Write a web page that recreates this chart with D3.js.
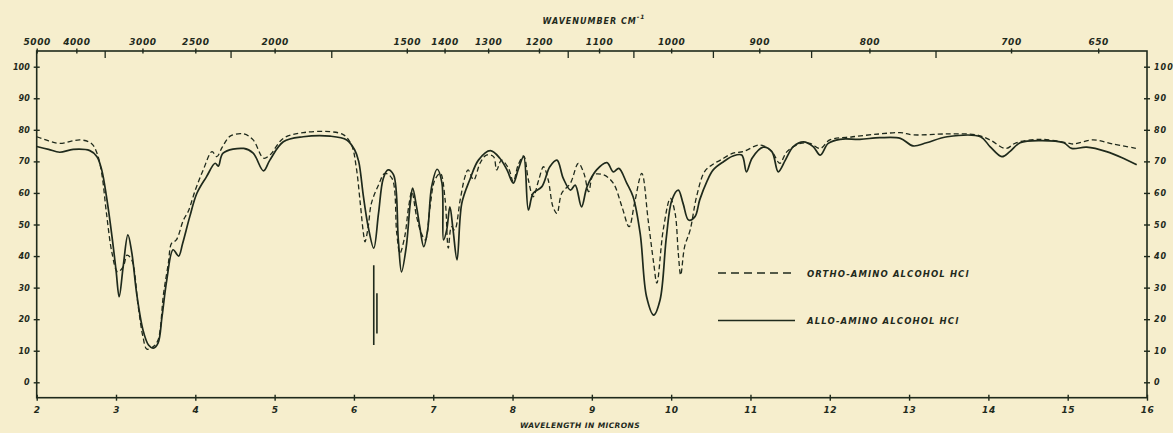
<!DOCTYPE html>
<html>
<head>
<meta charset="utf-8">
<script src="https://cdn.jsdelivr.net/npm/d3@7"></script>
<style>
  html, body { margin: 0; padding: 0; background: #f6eecd; }
  svg { display: block; }
  text { font-family: "DejaVu Sans", sans-serif; font-style: italic; font-weight: bold; fill: #1f2a1c; }
</style>
</head>
<body>
<svg id="chart"></svg>
<script>
// Data: wavelength (microns) and % transmittance
const alloWave = [2.00,2.15,2.29,2.46,2.67,2.76,2.82,2.88,2.95,3.00,3.04,3.09,3.15,3.20,3.26,3.34,3.41,3.47,3.53,3.58,3.64,3.72,3.79,3.84,3.93,4.02,4.14,4.25,4.29,4.35,4.61,4.73,4.86,4.94,5.11,5.36,5.70,5.91,6.01,6.06,6.12,6.18,6.25,6.31,6.37,6.43,6.50,6.56,6.60,6.66,6.71,6.74,6.79,6.83,6.88,6.93,6.98,7.05,7.11,7.13,7.17,7.21,7.25,7.30,7.36,7.46,7.57,7.72,7.84,7.93,8.01,8.07,8.14,8.20,8.26,8.37,8.47,8.56,8.64,8.73,8.79,8.87,8.94,9.06,9.19,9.27,9.34,9.44,9.52,9.61,9.69,9.78,9.86,9.94,10.01,10.09,10.15,10.22,10.30,10.36,10.45,10.53,10.66,10.78,10.89,10.95,11.02,11.16,11.27,11.35,11.44,11.54,11.67,11.79,11.88,11.98,12.13,12.38,12.63,12.89,13.05,13.22,13.48,13.90,14.02,14.17,14.27,14.40,14.65,14.95,15.05,15.24,15.49,15.70,15.87];
const alloT = [74.7,73.8,72.9,73.8,73.4,71.5,67.3,58.8,46.1,35.6,27.1,36.6,46.7,40.9,28.2,16.6,11.8,10.8,12.4,20.8,32.4,42.0,40.0,44.0,52.5,59.9,65.1,69.4,68.5,72.6,74.1,72.6,67.0,70.4,76.2,77.8,78.0,76.8,73.6,70.0,58.8,49.3,42.5,53.5,64.6,67.3,65.7,45.1,35.0,43.0,56.7,61.5,55.6,49.3,43.0,48.3,62.0,67.5,63.1,45.1,48.3,55.6,48.3,38.8,56.7,64.1,70.4,73.4,71.0,67.3,63.1,67.3,71.5,54.6,59.9,62.0,68.3,70.4,64.6,60.9,62.5,55.6,62.0,67.3,69.6,66.7,67.8,63.1,58.8,47.0,27.1,21.3,26.1,46.1,57.8,60.9,56.7,51.4,52.5,57.8,63.6,67.3,69.9,71.7,72.0,66.7,71.0,74.5,73.1,66.7,70.4,74.7,76.2,74.7,72.0,75.7,77.0,77.0,77.5,77.3,74.9,75.9,77.8,77.8,74.7,71.5,73.1,75.9,76.6,75.9,74.1,74.5,73.1,71.0,68.9];

const orthoWave = [2.00,2.15,2.29,2.55,2.69,2.76,2.82,2.88,2.95,3.02,3.09,3.14,3.20,3.28,3.34,3.39,3.47,3.53,3.60,3.66,3.70,3.76,3.85,3.91,4.00,4.10,4.21,4.27,4.34,4.44,4.61,4.73,4.86,4.94,5.11,5.36,5.70,5.87,5.97,6.03,6.08,6.12,6.14,6.18,6.22,6.31,6.39,6.48,6.54,6.58,6.64,6.69,6.73,6.79,6.85,6.90,6.96,7.02,7.09,7.15,7.19,7.23,7.27,7.34,7.40,7.44,7.51,7.59,7.67,7.76,7.80,7.86,7.95,8.01,8.07,8.14,8.20,8.26,8.33,8.39,8.45,8.51,8.56,8.62,8.73,8.83,8.90,8.96,9.02,9.15,9.27,9.38,9.47,9.54,9.63,9.71,9.78,9.82,9.90,9.99,10.05,10.09,10.12,10.17,10.24,10.32,10.42,10.51,10.62,10.78,10.91,11.12,11.27,11.37,11.46,11.63,11.75,11.88,12.00,12.29,12.63,12.89,13.05,13.48,13.85,14.02,14.22,14.35,14.65,14.99,15.07,15.32,15.57,15.87];
const orthoT = [77.8,76.5,75.7,76.8,75.7,72.6,66.2,53.5,40.9,35.0,36.6,40.3,38.7,24.0,14.4,10.5,11.3,13.4,28.2,37.7,44.0,45.1,51.4,54.1,60.9,67.3,73.1,71.5,74.5,78.0,78.7,76.8,71.0,72.0,77.3,79.1,79.4,78.4,75.2,68.0,56.7,47.2,44.5,49.3,56.7,62.5,66.2,64.6,47.2,40.9,46.1,55.6,60.4,52.5,47.2,45.1,55.6,64.1,66.2,57.8,42.5,49.3,48.3,57.8,65.1,67.3,64.1,69.4,72.0,71.5,67.3,70.4,67.8,63.6,68.8,71.7,64.1,58.8,64.1,68.3,64.1,55.6,53.5,59.9,63.1,69.4,66.2,60.4,65.7,65.7,63.1,55.6,49.3,57.0,66.2,51.4,37.7,31.4,48.3,58.3,53.5,40.9,34.0,43.0,48.3,58.8,66.7,68.8,70.4,72.6,73.1,75.2,73.1,69.4,73.1,75.7,75.7,74.1,76.8,77.8,78.7,79.1,78.4,78.7,78.4,76.8,74.1,75.9,77.0,75.9,75.5,76.8,75.5,74.1];

// stray pen strokes near 6.25 microns
const spikeWave = [6.25, 6.25, null, 6.29, 6.29];
const spikeT = [37.1, 11.8, null, 28.2, 15.5];

const yTicks = [0, 10, 20, 30, 40, 50, 60, 70, 80, 90, 100];
const xTicks = [2, 3, 4, 5, 6, 7, 8, 9, 10, 11, 12, 13, 14, 15, 16];
const wnMajor = [5000, 4000, 3000, 2500, 2000, 1500, 1400, 1300, 1200, 1100, 1000, 900, 800, 700, 650];
const wnMinor = [3500, 2250, 1750, 1150, 1050, 950, 850, 750];

const seriesNames = ["ORTHO-AMINO ALCOHOL HCl", "ALLO-AMINO ALCOHOL HCl"];

// Chart dimensions
const width = 1173;
const height = 433;
const plotLeft = 36.7, plotRight = 1147, plotTop = 51, plotBottom = 397.7;
const ink = "#1f2a1c";

const svg = d3.select("#chart").attr("width", width).attr("height", height);

const xScale = d3.scaleLinear().domain([2, 16]).range([plotLeft, plotRight]);
const yScale = d3.scaleLinear().domain([0, 100]).range([382.3, 66.7]);

// Frame
svg.append("rect")
  .attr("x", plotLeft).attr("y", plotTop)
  .attr("width", plotRight - plotLeft).attr("height", plotBottom - plotTop)
  .attr("fill", "none").attr("stroke", ink).attr("stroke-width", 1.6);

// Bottom axis (wavelength)
const xAxis = d3.axisBottom(xScale).tickValues(xTicks).tickSize(3).tickFormat(d3.format("d"));
const gx = svg.append("g").attr("transform", `translate(0,${plotBottom})`).call(xAxis);
gx.select(".domain").remove();
gx.selectAll(".tick line").attr("y1", -3).attr("y2", 3).attr("stroke", ink).attr("stroke-width", 1.4);
gx.selectAll(".tick text").attr("y", 15).attr("dy", 0).style("font-size", "9px").style("letter-spacing", "0.5px");

svg.append("text")
  .attr("x", 580).attr("y", 428)
  .attr("text-anchor", "middle")
  .style("font-size", "7.5px").style("letter-spacing", "0.4px")
  .text("WAVELENGTH IN MICRONS");

// Top axis (wavenumber)
const topAxis = d3.axisTop(xScale)
  .tickValues(wnMajor.map((n) => 10000 / n))
  .tickSize(3)
  .tickFormat((d) => Math.round(10000 / d));
const gt = svg.append("g").attr("transform", `translate(0,${plotTop})`).call(topAxis);
gt.select(".domain").remove();
gt.selectAll(".tick line").attr("y1", -2.5).attr("y2", 2.5).attr("stroke", ink).attr("stroke-width", 1.4);
gt.selectAll(".tick text").attr("y", -6).attr("dy", 0).style("font-size", "9px").style("letter-spacing", "0.6px");

const minorAxis = d3.axisTop(xScale)
  .tickValues(wnMinor.map((n) => 10000 / n))
  .tickSize(-7)
  .tickFormat("");
const gm = svg.append("g").attr("transform", `translate(0,${plotTop})`).call(minorAxis);
gm.select(".domain").remove();
gm.selectAll(".tick line").attr("stroke", ink).attr("stroke-width", 1.3);

const wnTitle = svg.append("text")
  .attr("x", 594).attr("y", 24)
  .attr("text-anchor", "middle")
  .style("font-size", "8px").style("letter-spacing", "1px");
wnTitle.append("tspan").text("WAVENUMBER CM");
wnTitle.append("tspan").attr("dy", -5).style("font-size", "6px").text("-1");

// Left and right axes (% transmittance)
const yLeft = d3.axisLeft(yScale).tickValues(yTicks).tickSize(3);
const gl = svg.append("g").attr("transform", `translate(${plotLeft},0)`).call(yLeft);
gl.select(".domain").remove();
gl.selectAll(".tick line").attr("x1", -3).attr("x2", 3).attr("stroke", ink).attr("stroke-width", 1.4);
gl.selectAll(".tick text").attr("x", -7).style("font-size", "8px");

const yRight = d3.axisRight(yScale).tickValues(yTicks).tickSize(3);
const gr = svg.append("g").attr("transform", `translate(${plotRight},0)`).call(yRight);
gr.select(".domain").remove();
gr.selectAll(".tick line").attr("x1", -3).attr("x2", 3).attr("stroke", ink).attr("stroke-width", 1.4);
gr.selectAll(".tick text").attr("x", 7).style("font-size", "8px").style("letter-spacing", "1px");

// Spectra
const line = d3.line()
  .defined((d) => d[0] !== null)
  .x((d) => xScale(d[0]))
  .y((d) => yScale(d[1]))
  .curve(d3.curveCatmullRom.alpha(0.5));

const ortho = d3.zip(orthoWave, orthoT);
const allo = d3.zip(alloWave, alloT);
const spike = d3.zip(spikeWave, spikeT);

svg.append("path")
  .datum(ortho)
  .attr("d", line)
  .attr("fill", "none")
  .attr("stroke", ink)
  .attr("stroke-width", 1.3)
  .attr("stroke-dasharray", "5,3");

svg.append("path")
  .datum(allo)
  .attr("d", line)
  .attr("fill", "none")
  .attr("stroke", ink)
  .attr("stroke-width", 1.7);

svg.append("path")
  .datum(spike)
  .attr("d", d3.line().defined((d) => d[0] !== null).x((d) => xScale(d[0])).y((d) => yScale(d[1])))
  .attr("fill", "none")
  .attr("stroke", ink)
  .attr("stroke-width", 1.6);

// Legend
const legend = svg.append("g").attr("transform", "translate(718,273)");
seriesNames.forEach((name, i) => {
  const g = legend.append("g").attr("transform", `translate(0,${i * 47.5})`);
  g.append("line")
    .attr("x1", 0).attr("x2", 77)
    .attr("stroke", ink)
    .attr("stroke-width", i === 0 ? 1.3 : 1.7)
    .attr("stroke-dasharray", i === 0 ? "8,5" : null);
  g.append("text")
    .attr("x", 89).attr("y", 3.5)
    .style("font-size", "8.5px").style("letter-spacing", "1.1px")
    .text(name);
});
</script>
</body>
</html>
